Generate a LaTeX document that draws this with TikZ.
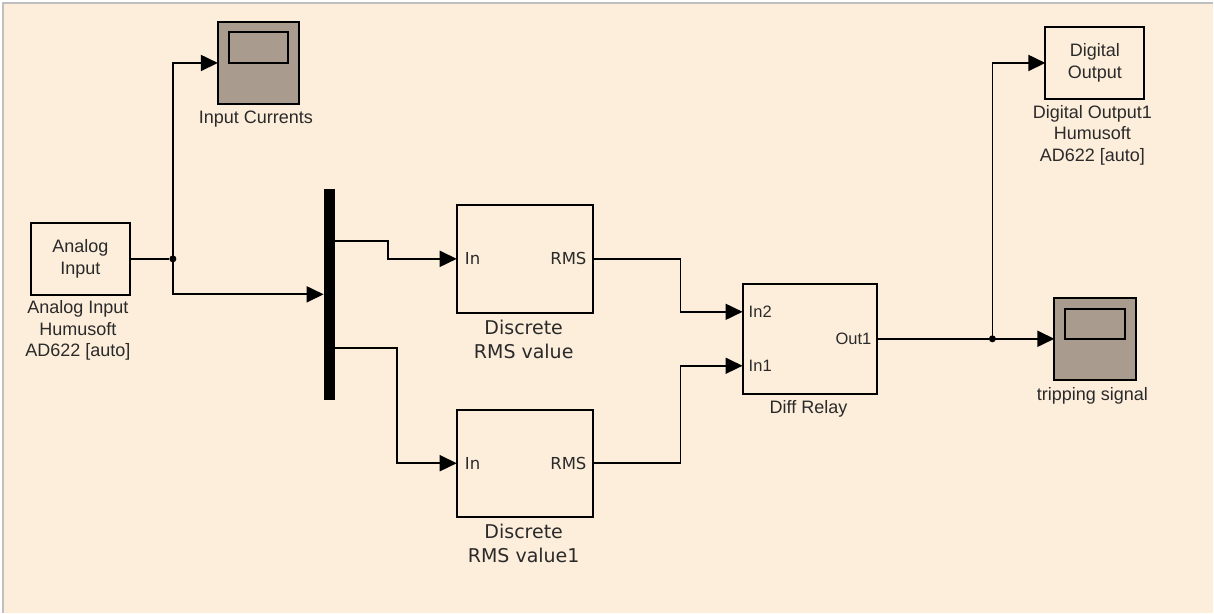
\documentclass[tikz,border=0pt]{standalone}
\usepackage{fontspec}
\setmainfont{Liberation Sans}
\newfontfamily\verd{DejaVu Sans}
\usetikzlibrary{arrows.meta}
\definecolor{bg}{HTML}{FDEEDB}
\definecolor{scopefill}{HTML}{A99C8F}
\definecolor{txt}{HTML}{2A2A2A}
\begin{document}
\begin{tikzpicture}[x=1pt,y=-1pt,
  blk/.style={draw=black, line width=2pt, fill=bg, inner sep=0pt, outer sep=0pt},
  scopebox/.style={blk, fill=scopefill},
  wire/.style={line width=1.8pt, black},
  arr/.style={wire, -{Triangle[length=17pt,width=16pt]}},
  lbl/.style={text=txt, align=center, inner sep=0pt, font=\fontsize{18}{21.5}\selectfont},
  vlbl/.style={text=txt, align=center, inner sep=0pt, font=\verd\fontsize{19}{24}\selectfont},
  port/.style={text=txt, inner sep=0pt, font=\verd\fontsize{16.5}{18}\selectfont},
  aport/.style={text=txt, inner sep=0pt, font=\fontsize{16.5}{18}\selectfont},
  dot/.style={circle, fill=black, inner sep=0pt, minimum size=7pt}]
\fill[white] (0,0) rectangle (1214,613);
\fill[bg] (3,3) rectangle (1214,613);
\draw[black!25, line width=1.5pt] (3,613) -- (3,3) -- (1214,3);
\useasboundingbox (0,0) rectangle (1214,613);

% blocks
\node[blk, minimum width=99pt, minimum height=72pt] (ain) at (80.5,259) {};
\node[lbl] (aintxt) at (80.5,259) {Analog\\Input};
\node[lbl] (ainlbl) at (78,331) {Analog Input\\Humusoft\\AD622 [auto]};

\node[scopebox, minimum width=81pt, minimum height=82pt] (sc1) at (258.5,63) {};
\node[scopebox, minimum width=59pt, minimum height=31pt] (sc1s) at (258.5,47.5) {};
\node[lbl] (sc1lbl) at (256,119) {Input Currents};

\node[fill=black, inner sep=0pt, minimum width=11pt, minimum height=211pt] (mux) at (329.5,294.5) {};
\coordinate (mo1) at (335,241);
\coordinate (mo2) at (335,348);

\node[blk, minimum width=136pt, minimum height=108pt] (rms1) at (525,259) {};
\node[port, anchor=west] (rms1in) at (465,259) {In};
\node[port, anchor=east] (rms1out) at (587,259) {RMS};
\node[vlbl] (rms1lbl) at (524,340) {Discrete\\RMS value};

\node[blk, minimum width=136pt, minimum height=107pt] (rms2) at (525,463.5) {};
\node[port, anchor=west] (rms2in) at (465,464) {In};
\node[port, anchor=east] (rms2out) at (587,464) {RMS};
\node[vlbl] (rms2lbl) at (524,544) {Discrete\\RMS value1};

\node[blk, minimum width=135pt, minimum height=110pt] (relay) at (810.5,339) {};
\coordinate (rin2) at (743,312);
\coordinate (rin1) at (743,366);
\node[aport, anchor=west] (in2txt) at (749,312) {In2};
\node[aport, anchor=west] (in1txt) at (749,366) {In1};
\node[aport, anchor=east] (out1txt) at (872,339) {Out1};
\node[lbl] (relaylbl) at (809,409) {Diff Relay};

\node[blk, minimum width=99pt, minimum height=72pt] (dout) at (1095.5,63) {};
\node[lbl] (douttxt) at (1095.5,63) {Digital\\Output};
\node[lbl] (doutlbl) at (1093,135) {Digital Output1\\Humusoft\\AD622 [auto]};

\node[scopebox, minimum width=82pt, minimum height=82pt] (sc2) at (1096,339) {};
\node[scopebox, minimum width=60pt, minimum height=30pt] (sc2s) at (1096,324) {};
\node[lbl] (sc2lbl) at (1093,396) {tripping signal};

% branch points
\node[dot] (br1) at (173,259) {};
\node[dot] (br2) at (993,339) {};

% connectors
\draw[wire] (ain.east) -- (br1);
\draw[arr] (br1.center) |- (sc1.west);
\draw[arr] (br1.center) |- (mux.west);
\draw[arr] (mo1) -- ++(53,0) |- (rms1.west);
\draw[arr] (mo2) -- ++(62,0) |- (rms2.west);
\draw[arr] (rms1.east) -- ++(88,0) |- (rin2);
\draw[arr] (rms2.east) -- ++(88,0) |- (rin1);
\draw[wire] (relay.east) -- (br2);
\draw[arr] (br2.center) -- (sc2.west);
\draw[arr] (br2.center) |- (dout.west);
\end{tikzpicture}
\end{document}
